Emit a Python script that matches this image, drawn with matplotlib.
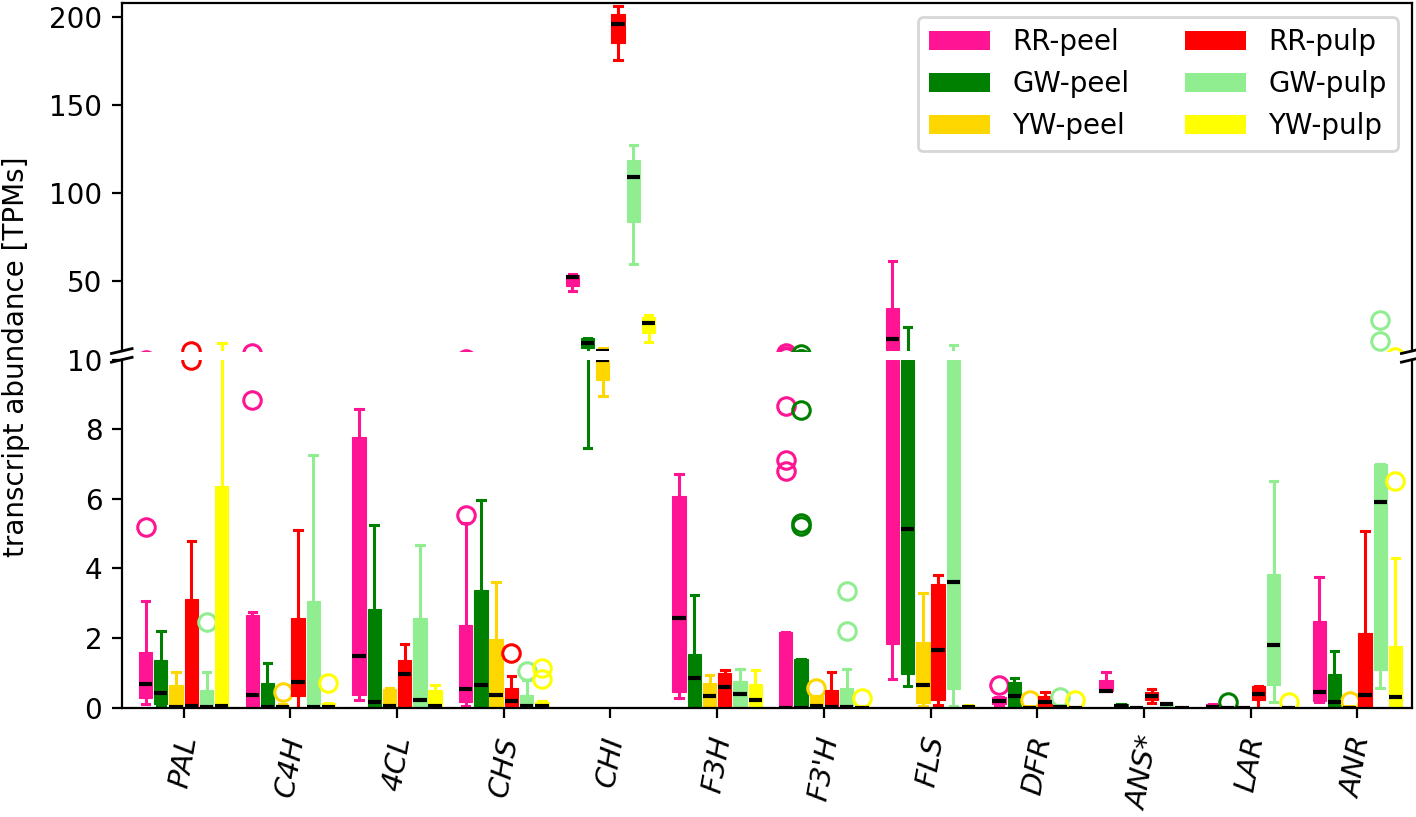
import numpy as np
import matplotlib
matplotlib.use('Agg')
import matplotlib.pyplot as plt
from matplotlib.patches import Patch

plt.rcParams['font.size'] = 10

genes = ['PAL', 'C4H', '4CL', 'CHS', 'CHI', 'F3H', "F3'H", 'FLS', 'DFR', 'ANS*', 'LAR', 'ANR']
groups = ['RR-peel', 'GW-peel', 'YW-peel', 'RR-pulp', 'GW-pulp', 'YW-pulp']
colors = ['deeppink', 'green', 'gold', 'red', 'lightgreen', 'yellow']

# one row per group, one column per gene
q1 = [
    [0.28, 0.04, 0.37, 0.16, 47.3, 0.44, 0.0, 1.84, 0.10, 0.47, 0.0, 0.20],
    [0.11, 0.02, 0.0, 0.0, 11.5, 0.0, 0.0, 0.95, 0.02, 0.0, 0.0, 0.0],
    [0.0, 0.0, 0.0, 0.0, 9.43, 0.0, 0.0, 0.13, 0.0, 0.0, 0.0, 0.0],
    [0.0, 0.33, 0.0, 0.04, 185.5, 0.04, 0.0, 0.21, 0.04, 0.21, 0.23, 0.02],
    [0.0, 0.0, 0.0, 0.0, 83.6, 0.04, 0.0, 0.54, 0.0, 0.04, 0.64, 1.09],
    [0.0, 0.0, 0.0, 0.0, 20.0, 0.0, 0.0, 0.0, 0.0, 0.0, 0.0, 0.02],
]
med = [
    [0.68, 0.35, 1.47, 0.52, 52.1, 2.58, 0.0, 16.6, 0.18, 0.48, 0.02, 0.45],
    [0.42, 0.02, 0.16, 0.64, 14.3, 0.85, 0.0, 5.14, 0.33, 0.05, 0.0, 0.16],
    [0.02, 0.02, 0.05, 0.37, 9.98, 0.33, 0.05, 0.66, 0.0, 0.0, 0.0, 0.0],
    [0.03, 0.73, 0.95, 0.20, 196.4, 0.59, 0.02, 1.65, 0.15, 0.33, 0.40, 0.37],
    [0.02, 0.02, 0.21, 0.04, 109.1, 0.40, 0.02, 3.61, 0.02, 0.10, 1.79, 5.90],
    [0.03, 0.02, 0.03, 0.03, 26.1, 0.23, 0.0, 0.02, 0.0, 0.0, 0.0, 0.30],
]
q3 = [
    [1.59, 2.67, 7.78, 2.36, 53.4, 6.07, 2.17, 34.7, 0.30, 0.79, 0.10, 2.48],
    [1.36, 0.71, 2.84, 3.37, 17.2, 1.55, 1.40, 10.0, 0.73, 0.10, 0.02, 0.97],
    [0.64, 0.08, 0.52, 1.97, 10.1, 0.71, 0.34, 1.89, 0.04, 0.02, 0.0, 0.04],
    [3.13, 2.58, 1.38, 0.56, 202.1, 0.98, 0.49, 3.55, 0.34, 0.44, 0.61, 2.13],
    [0.50, 3.05, 2.56, 0.37, 118.5, 0.76, 0.57, 10.0, 0.08, 0.12, 3.85, 7.00],
    [6.38, 0.12, 0.49, 0.16, 29.5, 0.69, 0.04, 0.06, 0.02, 0.01, 0.02, 1.76],
]
whislo = [
    [0.11, 0.0, 0.21, 0.05, 44.2, 0.26, 0.0, 0.82, 0.05, 0.47, 0.0, 0.15],
    [0.03, 0.0, 0.0, 0.0, 7.47, 0.0, 0.0, 0.61, 0.0, 0.0, 0.0, 0.0],
    [0.0, 0.0, 0.0, 0.0, 8.97, 0.0, 0.0, 0.04, 0.0, 0.0, 0.0, 0.0],
    [0.0, 0.0, 0.0, 0.0, 175.7, 0.0, 0.0, 0.08, 0.0, 0.12, 0.0, 0.0],
    [0.0, 0.0, 0.0, 0.0, 59.3, 0.0, 0.0, 0.03, 0.0, 0.0, 0.16, 0.57],
    [0.0, 0.0, 0.0, 0.0, 15.3, 0.0, 0.0, 0.0, 0.0, 0.0, 0.0, 0.0],
]
whishi = [
    [3.05, 2.76, 8.59, 5.31, 53.6, 6.72, 2.17, 61.0, 0.30, 1.03, 0.10, 3.74],
    [2.21, 1.28, 5.26, 5.96, 17.5, 3.23, 1.40, 23.8, 0.85, 0.10, 0.02, 1.62],
    [1.01, 0.10, 0.56, 3.60, 11.9, 0.93, 0.34, 3.28, 0.04, 0.02, 0.0, 0.04],
    [4.78, 5.11, 1.84, 0.90, 206.4, 1.07, 1.03, 3.82, 0.44, 0.54, 0.63, 5.09],
    [1.01, 7.25, 4.68, 0.80, 127.2, 1.11, 1.11, 13.4, 0.08, 0.12, 6.52, 7.00],
    [14.4, 0.12, 0.66, 0.18, 30.4, 1.07, 0.04, 0.06, 0.02, 0.01, 0.02, 4.30],
]
fliers = [
    [[5.18], [8.85], [], [5.55], [], [], [8.68, 7.13, 6.79], [], [0.66], [], [], []],
    [[], [], [], [], [], [], [8.56, 5.30, 5.21], [], [], [], [0.15], []],
    [[], [0.45], [], [], [], [], [0.57], [], [0.23], [], [], [0.18]],
    [[10.0], [], [], [1.57], [], [], [], [], [], [], [], []],
    [[2.46], [], [], [1.04], [], [], [3.34, 2.19], [], [0.30], [], [], [27.6, 15.8]],
    [[], [0.71], [], [1.14, 0.83], [], [], [0.26], [], [0.21], [], [0.15], [6.52]],
]

fig, (ax_top, ax_bot) = plt.subplots(2, 1, sharex=True, figsize=(7.08, 4.085), dpi=200)
fig.subplots_adjust(left=0.086, right=0.997, top=0.996, bottom=0.134, hspace=0.025)

x = np.arange(len(genes))
for j, c in enumerate(colors):
    stats = []
    for i in range(len(genes)):
        stats.append(dict(med=med[j][i], q1=q1[j][i], q3=q3[j][i],
                          whislo=whislo[j][i], whishi=whishi[j][i],
                          fliers=fliers[j][i]))
    pos = x + (j - 2.5) / 7
    for ax in (ax_top, ax_bot):
        ax.bxp(stats, positions=pos, widths=0.125, capwidths=0.07,
               patch_artist=True, manage_ticks=False,
               boxprops=dict(facecolor=c, edgecolor=c, linewidth=0.4),
               whiskerprops=dict(color=c, linewidth=1.1),
               capprops=dict(color=c, linewidth=1.1),
               medianprops=dict(color='black', linewidth=1.5),
               flierprops=dict(marker='o', markerfacecolor='none',
                               markeredgecolor=c, markersize=6.3,
                               markeredgewidth=1.1))

ax_top.set_ylim(10, 208)
ax_bot.set_ylim(0, 10)
ax_top.set_yticks([50, 100, 150, 200])
ax_bot.set_yticks([0, 2, 4, 6, 8, 10])
ax_bot.set_xlim(-0.58, 11.51)

ax_top.spines['bottom'].set_visible(False)
ax_bot.spines['top'].set_visible(False)
ax_top.tick_params(bottom=False, labelbottom=False)

ax_bot.set_xticks(x)
ax_bot.set_xticklabels(genes, rotation=80, style='italic', fontsize=10.5)
ax_bot.tick_params(axis='x', pad=6)

# break marks
dx, dy = .008, .007
kw = dict(transform=ax_top.transAxes, color='k', clip_on=False, lw=1)
ax_top.plot((-dx, dx), (-dy, dy), **kw)
ax_top.plot((1 - dx, 1 + dx), (-dy, dy), **kw)
kw.update(transform=ax_bot.transAxes)
ax_bot.plot((-dx, dx), (1 - dy, 1 + dy), **kw)
ax_bot.plot((1 - dx, 1 + dx), (1 - dy, 1 + dy), **kw)

handles = [Patch(facecolor=c, label=g) for g, c in zip(groups, colors)]
ax_top.legend(handles=handles, ncol=2, loc='upper right', handlelength=2.2)

fig.text(0.011, 0.563, 'transcript abundance [TPMs]', rotation=90, va='center', ha='center')

plt.savefig('out.png')
